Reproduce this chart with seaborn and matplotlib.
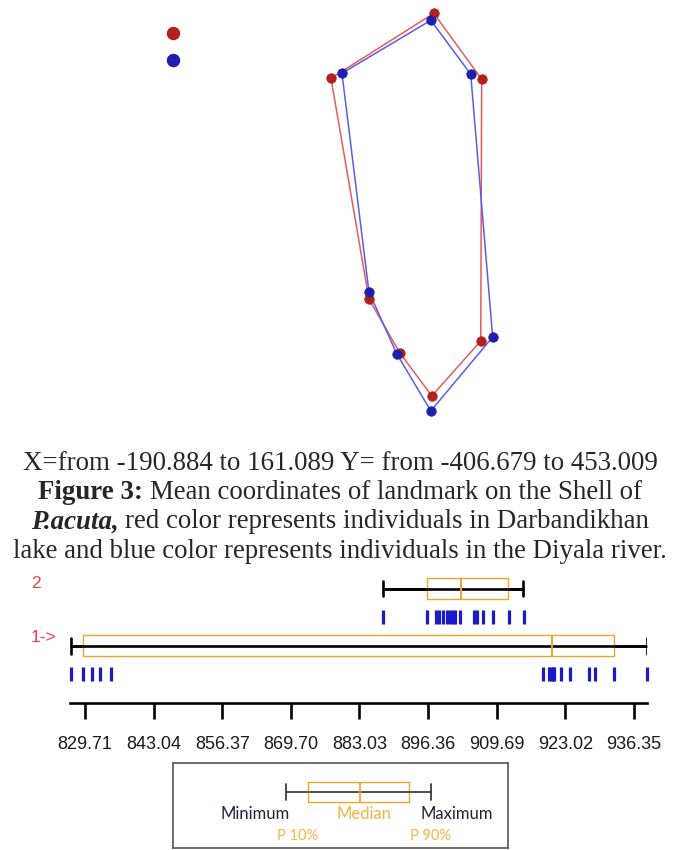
import numpy as np
import matplotlib
matplotlib.use("Agg")
import matplotlib.pyplot as plt
from matplotlib import font_manager
import seaborn as sns

# mean landmark coordinates, polygon order (top, upper-right, lower-right,
# bottom, lower-left, left-middle, upper-left)
darband_x = [32.9, 137.2, 135.1, 28.6, -40.9, -108.3, -190.9]
darband_y = [453.0, 310.4, -255.5, -374.3, -281.4, -164.8, 312.6]
diyala_x = [26.4, 113.3, 161.1, 26.4, -47.5, -108.3, -167.0]
diyala_y = [437.9, 321.2, -246.8, -406.7, -283.6, -149.6, 323.4]

# box plot panel: individual values of group 1 and group 2
group1_vals = [827.0, 829.3, 831.1, 832.6, 834.8, 918.7, 919.9, 920.3, 920.6,
               920.8, 922.2, 923.9, 927.6, 928.8, 932.4, 938.9]
group2_vals = [887.7, 896.1, 897.9, 898.5, 899.2, 900.0, 900.6, 901.2, 901.6,
               902.6, 905.3, 905.9, 907.1, 908.9, 912.0, 915.0]
# min, P10, median, P90, max as drawn
group1_stats = [826.9, 829.4, 920.5, 932.4, 938.9]
group2_stats = [887.6, 896.1, 902.8, 911.9, 914.9]
tick_labels = ["829.71", "843.04", "856.37", "869.70", "883.03",
               "896.36", "909.69", "923.02", "936.35"]

caption = [
    [("X=from -190.884 to 161.089 Y= from -406.679 to 453.009", "normal", "normal")],
    [("Figure 3:", "bold", "normal"), ("Mean coordinates of landmark on the Shell of", "normal", "normal")],
    [("P.acuta,", "bold", "italic"), ("red color represents individuals in Darbandikhan", "normal", "normal")],
    [("lake and blue color represents individuals in the Diyala river.", "normal", "normal")],
]

W, H = 680, 850
sns.set_style("white")
plt.rcParams['font.family'] = ['Liberation Sans', 'DejaVu Sans']

names = {f.name for f in font_manager.fontManager.ttflist}
if 'Liberation Sans Narrow' in names:
    tick_font, tick_size = 'Liberation Sans Narrow', 15
else:
    tick_font, tick_size = 'Liberation Sans', 13

fig = plt.figure(figsize=(W / 100, H / 100), dpi=100)


def px_rect(x0, y0, x1, y1):
    return [x0 / W, 1 - y1 / H, (x1 - x0) / W, (y1 - y0) / H]


# ---- landmark shapes
ax = fig.add_axes(px_rect(0, 0, W, 425))
red_line, red_dot = "#e65c5c", "#b3211f"
blue_line, blue_dot = "#5c5ce8", "#1f1fae"
for xs, ys, lc, dc in [(darband_x, darband_y, red_line, red_dot),
                       (diyala_x, diyala_y, blue_line, blue_dot)]:
    sns.lineplot(x=xs + xs[:1], y=ys + ys[:1], sort=False, estimator=None,
                 color=lc, lw=1.1, ax=ax)
for xs, ys, lc, dc in [(darband_x, darband_y, red_line, red_dot),
                       (diyala_x, diyala_y, blue_line, blue_dot)]:
    sns.scatterplot(x=xs, y=ys, color=dc, s=46, edgecolor=dc, linewidth=0.6,
                    ax=ax, zorder=3)
ax.scatter([173 / W], [1 - 33 / 425], s=75, color=red_dot, transform=ax.transAxes)
ax.scatter([173 / W], [1 - 60 / 425], s=75, color=blue_dot, transform=ax.transAxes)
ax.set_xlim(-911.5, 568.9)
ax.set_ylim(-437.1, 481.8)
ax.axis("off")

# ---- caption
renderer = fig.canvas.get_renderer()
cap_size = 19.4


def measure(s, weight, style):
    t = fig.text(0, 0, s, fontsize=cap_size, family='Liberation Serif',
                 weight=weight, style=style)
    w = t.get_window_extent(renderer).width
    t.remove()
    return w


space = measure("x x", "normal", "normal") - measure("xx", "normal", "normal")
for i, parts in enumerate(caption):
    ypx = 463 + i * 29.5
    widths = [measure(*p) for p in parts]
    total = sum(widths) + space * (len(parts) - 1)
    x = (W - total) / 2
    for (s, wt, st), w in zip(parts, widths):
        fig.text(x / W, 1 - ypx / H, s, fontsize=cap_size, family='Liberation Serif',
                 weight=wt, style=st, va='center', ha='left')
        x += w + space

# ---- box plot panel
orange = "#f0a42e"
tick_blue = "#1a1ac8"
bx = fig.add_axes(px_rect(70, 570, 647, 703))
for row, vals, st in [(1, group1_vals, group1_stats), (2, group2_vals, group2_stats)]:
    bx.hlines(row, st[0], st[4], color="black", lw=1.9, zorder=2)
    bx.bxp([dict(whislo=st[0], q1=st[1], med=st[2], q3=st[3], whishi=st[4], fliers=[])],
           positions=[row], widths=0.37, orientation='horizontal', manage_ticks=False,
           boxprops=dict(color=orange, lw=1.0), medianprops=dict(color=orange, lw=1.4),
           whiskerprops=dict(color="black", lw=1.9), capprops=dict(color="black", lw=1.9),
           capwidths=0.27, zorder=3)
    sns.scatterplot(x=vals, y=[row - 0.5] * len(vals), marker='|', s=95,
                    color=tick_blue, linewidth=2.3, ax=bx)
for c in bx.collections:
    c.set_clip_on(False)
bx.set_xlim(826.80, 938.90)
bx.set_ylim(0, 2.325)
bx.set_xticks([float(t) for t in tick_labels])
bx.set_xticklabels(tick_labels, family=tick_font, fontsize=tick_size, color="#1a1a1a")
bx.set_yticks([])
bx.set_xlabel("")
bx.set_ylabel("")
for side in ["top", "left", "right"]:
    bx.spines[side].set_visible(False)
bx.spines["bottom"].set_linewidth(1.9)
bx.spines["bottom"].set_color("black")
bx.tick_params(axis='x', bottom=True, direction='out', length=11.5, width=1.9,
               pad=12, color="black")

fig.text(36 / W, 1 - 583 / H, "2", color="#e8404a", fontsize=12.5, ha='center', va='center')
fig.text(31 / W, 1 - 637 / H, "1->", color="#e8404a", fontsize=12.5, ha='left', va='center')

# ---- key box
key_stats = [286, 308, 360, 409, 431]
kx = fig.add_axes(px_rect(173, 763, 508, 848))
kx.set_xlim(173, 508)
kx.set_ylim(848, 763)
kx.bxp([dict(whislo=key_stats[0], q1=key_stats[1], med=key_stats[2], q3=key_stats[3],
             whishi=key_stats[4], fliers=[])],
       positions=[792], widths=20, orientation='horizontal', manage_ticks=False,
       boxprops=dict(color=orange, lw=1.0), medianprops=dict(color=orange, lw=1.2),
       whiskerprops=dict(color="#404040", lw=1.3), capprops=dict(color="#404040", lw=1.3),
       capwidths=16, zorder=3)
kx.hlines(792, key_stats[1], key_stats[3], color="#404040", lw=1.3, zorder=2)
kx.set_xticks([])
kx.set_yticks([])
for s in kx.spines.values():
    s.set_color("#555555")
    s.set_linewidth(1.2)
navy = "#22223a"
light = "#f5b443"
kfont = ['Lato', 'DejaVu Sans']
kx.text(255, 814, "Minimum", color=navy, fontsize=12, family=kfont, ha='center', va='center')
kx.text(364, 814, "Median", color=light, fontsize=12, family=kfont, ha='center', va='center')
kx.text(457, 814, "Maximum", color=navy, fontsize=12, family=kfont, ha='center', va='center')
kx.text(298, 836, "P 10%", color=light, fontsize=10.5, family=kfont, ha='center', va='center')
kx.text(430, 836, "P 90%", color=light, fontsize=10.5, family=kfont, ha='center', va='center')

fig.savefig("out.png", dpi=100)
